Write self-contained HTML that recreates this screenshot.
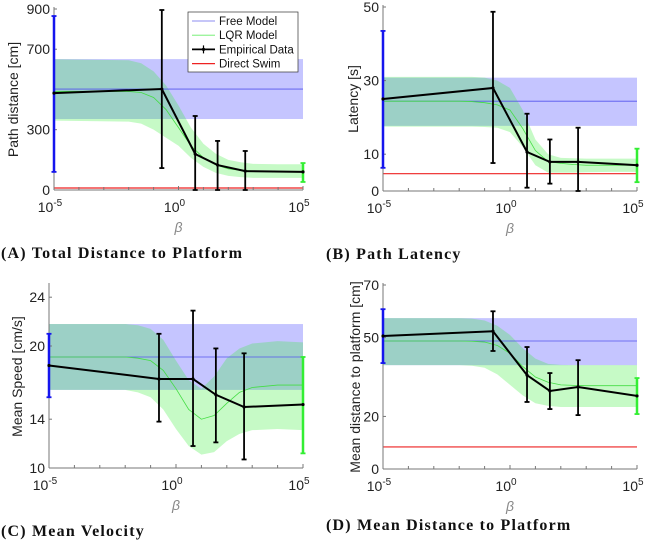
<!DOCTYPE html>
<html><head><meta charset="utf-8"><style>
body{margin:0;background:#fff;width:650px;height:544px;overflow:hidden}
svg text{font-family:"Liberation Sans",sans-serif}
.t{font-family:"Liberation Serif",serif;font-weight:bold;font-size:16px;letter-spacing:1.2px}
</style></head><body>
<svg id="fig" width="650" height="544" viewBox="0 0 650 544"></svg>
<script>
// Empirical data (x in log10 beta)
const empX=[-5,-0.67,0.67,1.57,2.68,5];
const aMean=[482,502,179,124,94,90], aHi=[865,895,368,244,194,134], aLo=[90,109,0,0,0,40];
const bMean=[25,28,10.6,7.9,7.9,7], bHi=[43.5,48.7,21,14,17.2,11.5], bLo=[6.3,7.6,0.9,2,0,2.4];
const cMean=[18.4,17.3,17.3,16.0,15.0,15.2], cHi=[21.0,21.0,22.9,19.8,19.4,19.1], cLo=[15.8,13.8,11.8,12.1,10.7,11.2];
const dMean=[50.6,52.4,35.7,29.7,31.2,27.8], dHi=[60.8,60,46.4,36.5,41.4,34.6], dLo=[40.3,44.9,25.5,22.8,20.5,20.9];
// model grid
const modX=[-5,-2,-1.5,-1,-0.5,0,0.5,1,1.5,2,2.5,3,4,5];
const aFree=[502,353,651], bFree=[24.4,17.7,30.8], cFree=[19.1,16.4,21.8], dFree=[48.7,39.5,57.4];
const aLqrM=[490,490,485,460,400,310,220,160,125,105,98,95,92,92];
const aLqrU=[650,645,630,590,520,420,310,230,180,150,138,130,128,128];
const aLqrL=[345,340,330,300,260,220,160,115,85,70,64,60,60,60];
const bLqrM=[24.4,24.4,24.3,24,23.4,22,17,11,8,7.5,7.2,7,7,7];
const bLqrU=[31,31,31,30.8,30,28,22,14,10,9,8.9,8.8,8.8,8.8];
const bLqrL=[17.5,17.5,17.5,17.4,17.2,16,12,7,5,5,5,5.1,5.2,5.2];
const cLqrM=[19.1,19.1,19.0,18.8,18,16.5,14.8,14.0,14.3,15.3,16.2,16.6,16.8,16.8];
const cLqrU=[21.8,21.8,21.7,21.4,20.5,18.8,17.2,16.5,17.5,19,19.8,20.2,20.4,20.3];
const cLqrL=[16.4,16.4,16.2,15.8,14.8,13.2,11.8,11.1,11.3,12.2,12.8,13.1,13.2,13.1];
const dLqrM=[48.7,48.7,48.6,48.3,47,44,39,35,33,32,31.8,31.7,31.7,31.7];
const dLqrU=[57.4,57.4,57.2,56.5,54.5,51,46,42,40,39.6,39.5,39.5,39.5,39.5];
const dLqrL=[39.5,39.5,39.3,38.5,36,32,28,25,24,23.6,23.6,23.6,23.6,23.6];
const swim=[10,4.7,null,8.4];
const yTicksA=[0,300,700,900], yTicksB=[0,10,30,50], yTicksC=[10,14,20,24], yTicksD=[0,20,50,70];
const xTickExp=[-5,0,5];

const NS="http://www.w3.org/2000/svg", svg=document.getElementById('fig');
function mk(tag,at,parent){const e=document.createElementNS(NS,tag);for(const k in at)e.setAttribute(k,at[k]);(parent||svg).appendChild(e);return e;}

function panel(key,P,emp,free,lqr,sw,yt,ylabel,title){
  const g=mk('g',{});
  
  
  const X=v=>P.x0+(v+5)/10*(P.x1-P.x0);
  const Y=v=>P.yb-(v-P.ymin)/(P.ymax-P.ymin)*(P.yb-P.yt);
  let fb=mk('rect',{x:X(-5),y:Y(free[2]),width:X(5)-X(-5),height:Y(free[1])-Y(free[2]),fill:'#4040ff','fill-opacity':0.3},g);
  
  
  let d='M'+modX.map((x,i)=>X(x)+','+Y(lqr[1][i])).join('L')+'L'+modX.slice().reverse().map((x,i)=>X(x)+','+Y(lqr[2][modX.length-1-i])).join('L')+'Z';
  let lb=mk('path',{d:d,fill:'#33ee33','fill-opacity':0.28},g);
  
  
  let fl=mk('line',{x1:X(-5),x2:X(5),y1:Y(free[0]),y2:Y(free[0]),stroke:'#5555ee','stroke-width':0.8},g);
  
  
  let ll=mk('polyline',{points:modX.map((x,i)=>X(x)+','+Y(lqr[0][i])).join(' '),fill:'none',stroke:'#44dd44','stroke-width':0.8},g);
  
  
  if(sw!=null){let s=mk('line',{x1:X(-5),x2:X(5),y1:Y(sw),y2:Y(sw),stroke:'#ee2222','stroke-width':1.2},g);
    
    }
  mk('line',{x1:P.x0,x2:P.x0,y1:P.yt-2,y2:P.yb,stroke:'#777','stroke-width':1},g);
  mk('line',{x1:P.x0,x2:P.x1,y1:P.yb,y2:P.yb,stroke:'#777','stroke-width':1},g);
  for(let e=-5;e<=5;e++){const x=X(e);mk('line',{x1:x,x2:x,y1:P.yb,y2:P.yb-(e%5==0?4:3),stroke:'#777'},g);}
  yt.forEach(v=>{mk('line',{x1:P.x0,x2:P.x0+3,y1:Y(v),y2:Y(v),stroke:'#777'},g);
    const t=mk('text',{x:P.x0-4,y:Y(v)+5,'text-anchor':'end','font-size':14,fill:'#222'},g);t.textContent=v;
    
    });
  xTickExp.forEach(e=>{const t=mk('text',{x:X(e)-4,y:P.yb+22,'text-anchor':'middle','font-size':14,fill:'#222'},g);
    t.textContent='10';const s=mk('tspan',{dy:-6,'font-size':10},t);s.textContent=e;
    
    });
  const yl=mk('text',{transform:`translate(${P.lx},${(P.yt+P.yb)/2}) rotate(-90)`,'text-anchor':'middle','font-size':14,fill:'#222'},g);
  yl.textContent=ylabel;
  
  
  const xl=mk('text',{x:(P.x0+P.x1)/2,y:P.yb+42,'text-anchor':'middle','font-size':14,'font-style':'italic',fill:'#888','font-family':'Liberation Serif'},g);
  xl.textContent='β';
  
  
  if(title){const tt=mk('text',{x:1,y:P.yb+68,class:'t',fill:'#111'},g);
  tt.textContent=title;
  
  }
  emp[0].forEach((m,i)=>{const x=X(empX[i]);const col=i==0?'#1515ee':(i==emp[0].length-1?'#33ee33':'#000');const w=i==0||i==emp[0].length-1?2.5:1.8;
    const eb=mk('g',{},g);
    
    
    mk('line',{x1:x,x2:x,y1:Y(emp[1][i]),y2:Y(emp[2][i]),stroke:col,'stroke-width':w},eb);
    [emp[1][i],emp[2][i]].forEach(v=>mk('line',{x1:x-2.5,x2:x+2.5,y1:Y(v),y2:Y(v),stroke:col,'stroke-width':1.8},eb));});
  const el=mk('polyline',{points:emp[0].map((m,i)=>X(empX[i])+','+Y(m)).join(' '),fill:'none',stroke:'#000','stroke-width':2},g);
  
  
  emp[0].forEach((m,i)=>mk('circle',{cx:X(empX[i]),cy:Y(m),r:1.6,fill:'#000'},g));
}
panel('a',{x0:54,x1:303,yt:9,yb:190,ymin:0,ymax:900,lx:18},[aMean,aHi,aLo],aFree,[aLqrM,aLqrU,aLqrL],swim[0],yTicksA,'Path distance [cm]','(A) Total Distance to Platform');
panel('b',{x0:383,x1:637,yt:7,yb:191,ymin:0,ymax:50,lx:358},[bMean,bHi,bLo],bFree,[bLqrM,bLqrU,bLqrL],swim[1],yTicksB,'Latency [s]','');
panel('c',{x0:49,x1:303,yt:285,yb:468,ymin:10,ymax:25,lx:22},[cMean,cHi,cLo],cFree,[cLqrM,cLqrU,cLqrL],null,yTicksC,'Mean Speed [cm/s]','(C) Mean Velocity');
panel('d',{x0:383,x1:637,yt:285,yb:469,ymin:0,ymax:70,lx:360},[dMean,dHi,dLo],dFree,[dLqrM,dLqrU,dLqrL],swim[3],yTicksD,'Mean distance to platform [cm]','');
[['(B) Path Latency',259],['(D) Mean Distance to Platform',530]].forEach(([s,y])=>{const t=mk('text',{x:326,y:y,class:'t',fill:'#111'});t.textContent=s;
  
  });
const lg=mk('g',{});


mk('rect',{x:188,y:12,width:110,height:60,fill:'#fff',stroke:'#333','stroke-width':0.7},lg);
[['Free Model','#6666ee',0.8],['LQR Model','#66ee66',0.8],['Empirical Data','#000',1.8],['Direct Swim','#ee2222',1.2]].forEach(([s,c,w],i)=>{
  const y=21+i*14.2;
  const e=mk('g',{},lg);
  
  
  mk('line',{x1:192,x2:215,y1:y,y2:y,stroke:c,'stroke-width':w},e);
  if(i==2){mk('line',{x1:203.5,x2:203.5,y1:y-4,y2:y+4,stroke:'#000','stroke-width':1.2},e);mk('circle',{cx:203.5,cy:y,r:1.6},e);}
  const t=mk('text',{x:219,y:y+4,'font-size':11.5,fill:'#111'},e);t.textContent=s;});
</script>
</body></html>
